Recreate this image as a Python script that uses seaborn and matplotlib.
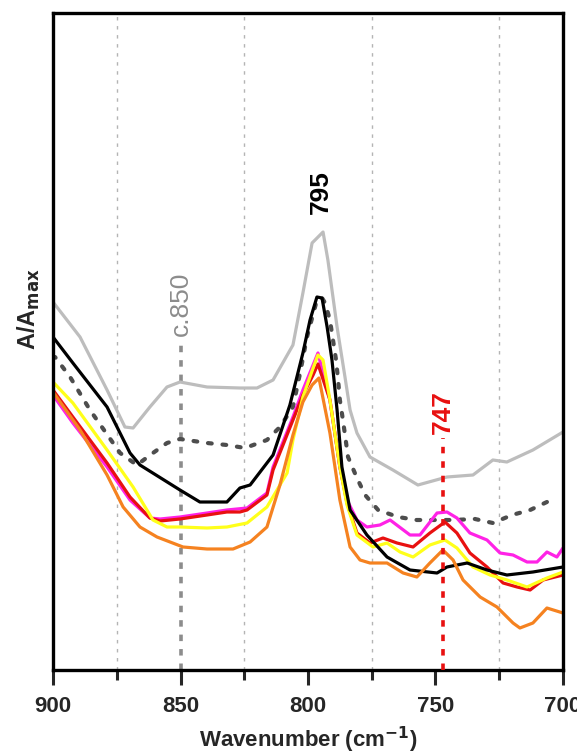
import numpy as np
import matplotlib
matplotlib.use('Agg')
import matplotlib.pyplot as plt
import seaborn as sns

# wavenumber (cm-1) / normalised absorbance
wn_gray = [900, 889.4, 878.8, 871.8, 868.6, 862.0, 855.3, 850.2, 839.6, 826.7, 820.0, 813.7, 805.9,
           802.0, 798.4, 794.1, 792.2, 788.6, 785.5, 783.5, 780.8, 775.7, 766.7, 756.9, 745.5,
           735.3, 727.5, 722.0, 711.8, 700]
a_gray = [.368, .333, .280, .243, .242, .263, .283, .288, .283, .282, .282, .290, .325,
          .377, .427, .438, .410, .343, .293, .260, .237, .213, .200, .185, .193,
          .195, .210, .208, .220, .238]

wn_dot = [899.2, 893.3, 885.5, 873.7, 867.1, 860.8, 855.3, 850.2, 839.6, 831.8, 824.7, 816.1, 811.0,
          805.9, 803.1, 800.4, 796.5, 794.5, 793.3, 791.4, 790.2, 789.0, 788.2, 787.5, 786.3,
          784.3, 780.8, 777.6, 772.5, 764.7, 757.3, 748.2, 743.1, 734.5, 727.5, 720.0, 712.9, 706.3]
a_dot = [.313, .293, .260, .217, .205, .217, .227, .231, .227, .225, .222, .230, .243,
         .263, .297, .333, .370, .372, .367, .350, .330, .310, .290, .270, .250,
         .213, .192, .175, .160, .153, .150, .150, .150, .151, .147, .155, .160, .168]

wn_black = [900, 892.2, 878.8, 869.8, 865.9, 850.2, 842.4, 831.8, 826.7, 822.7, 813.7, 807.1, 802.0,
            799.2, 796.5, 794.5, 792.5, 790.6, 788.6, 786.7, 783.5, 776.9, 769.0, 760.0, 749.4,
            745.5, 737.6, 729.8, 722.0, 711.8, 700]
a_black = [.333, .307, .263, .217, .205, .180, .168, .168, .182, .185, .215, .265, .317,
           .350, .373, .372, .343, .310, .260, .203, .160, .135, .113, .100, .097,
           .103, .107, .100, .095, .098, .103]

wn_magenta = [900, 892.2, 878.8, 869.8, 862.0, 858.0, 850.2, 839.6, 831.8, 823.9, 816.1, 813.7, 805.9,
              802.0, 798.0, 796.1, 791.4, 787.5, 784.7, 780.8, 776.9, 771.8, 767.8, 760.0, 756.1,
              749.4, 745.5, 741.6, 736.5, 729.8, 724.7, 719.6, 714.1, 710.2, 706.3, 702.4, 700]
a_magenta = [.275, .247, .203, .170, .152, .151, .153, .157, .160, .162, .177, .203, .253,
             .280, .305, .317, .270, .203, .170, .150, .143, .145, .150, .135, .135,
             .157, .158, .152, .137, .130, .117, .115, .108, .108, .118, .113, .122]

wn_red = [900, 892.2, 878.8, 869.8, 862.0, 858.0, 850.2, 839.6, 831.8, 826.7, 823.9, 816.1, 813.7,
          805.9, 802.0, 798.0, 796.1, 791.4, 787.5, 784.7, 780.8, 775.7, 770.6, 765.1, 758.8,
          752.2, 746.3, 741.6, 736.5, 729.8, 723.5, 718.0, 712.9, 707.8, 700]
a_red = [.280, .253, .207, .173, .152, .149, .151, .155, .158, .158, .160, .175, .200,
         .250, .275, .295, .306, .270, .203, .167, .137, .127, .132, .127, .123,
         .137, .148, .137, .117, .103, .087, .083, .080, .090, .095]

wn_yellow = [900, 892.2, 878.8, 868.6, 860.8, 855.3, 850.2, 839.6, 831.8, 823.9, 816.1, 808.2, 805.9,
             802.0, 798.0, 796.1, 794.1, 791.4, 787.5, 784.7, 780.8, 774.5, 769.0, 763.9, 758.8,
             752.2, 746.3, 741.6, 735.3, 728.6, 722.0, 714.1, 706.3, 700]
a_yellow = [.288, .267, .220, .183, .150, .143, .143, .142, .143, .147, .163, .197, .230,
            .273, .302, .315, .310, .270, .203, .165, .135, .123, .127, .118, .113,
            .125, .130, .122, .103, .095, .090, .083, .092, .098]

wn_orange = [900, 889.4, 878.8, 872.5, 865.9, 859.2, 849.0, 839.6, 829.4, 822.7, 816.1, 811.0, 805.9,
             802.0, 798.4, 795.7, 791.4, 787.5, 783.5, 779.6, 775.7, 769.0, 762.7, 757.3, 752.2,
             747.1, 743.1, 739.2, 732.5, 725.9, 719.6, 716.9, 711.8, 706.3, 700]
a_orange = [.278, .240, .195, .163, .143, .133, .123, .121, .121, .128, .143, .185, .235,
            .268, .285, .292, .237, .170, .123, .110, .107, .107, .097, .093, .107,
            .120, .110, .090, .073, .063, .047, .042, .047, .062, .057]

# band annotations
band_wn = [850, 795, 747]
band_text = ['c.850', '795', '747']
band_top = [0.330, 0.452, 0.232]
band_color = ['#8c8c8c', 'black', '#e81010']

sns.set_style('white')
plt.rcParams['font.family'] = ['Liberation Sans', 'DejaVu Sans']

fig = plt.figure(figsize=(5.77, 7.53), dpi=100)
ax = fig.add_axes([53/577, 83/753, 510/577, 657/753])

for x in [875, 825, 775, 725]:
    ax.axvline(x, color='#b4b4b4', lw=1.0, ls=(0, (2.5, 4)), zorder=0)

lw = 2.3
sns.lineplot(x=wn_gray, y=a_gray, ax=ax, color='#bdbdbd', lw=lw)
sns.lineplot(x=wn_dot, y=a_dot, ax=ax, color='#4d4d4d', lw=3.0,
             linestyle=(0, (0.9, 2.6)), dash_capstyle='round')
sns.lineplot(x=wn_magenta, y=a_magenta, ax=ax, color='#ff22e6', lw=lw)
sns.lineplot(x=wn_red, y=a_red, ax=ax, color='#e81010', lw=lw)
sns.lineplot(x=wn_yellow, y=a_yellow, ax=ax, color='#ffff1a', lw=lw)
sns.lineplot(x=wn_black, y=a_black, ax=ax, color='black', lw=lw)
sns.lineplot(x=wn_orange, y=a_orange, ax=ax, color='#f58220', lw=lw)

# dashed band markers + labels
ax.plot([band_wn[0]] * 2, [0, band_top[0]], color='#8c8c8c', lw=2.6, ls=(0, (1.8, 2.2)), zorder=1)
ax.plot([band_wn[2]] * 2, [0, band_top[2]], color='#e81010', lw=2.6, ls=(0, (1.8, 2.2)), zorder=5)
for x, t, y, c in zip(band_wn, band_text, band_top, band_color):
    ax.text(x, y + 0.004, t, rotation=90, ha='center', va='bottom', color=c,
            fontsize=19, fontweight='normal' if t.startswith('c') else 'bold')

ax.set_xlim(900, 700)
ax.set_ylim(0, 0.657)
ax.set_yticks([])
ax.set_xticks([900, 850, 800, 750, 700])
ax.set_xticks([875, 825, 775, 725], minor=True)
ax.tick_params(axis='x', which='major', length=11, width=2.2, direction='out',
               labelsize=16, pad=8, bottom=True)
ax.tick_params(axis='x', which='minor', length=7, width=2.2, direction='out', bottom=True)
for lbl in ax.get_xticklabels():
    lbl.set_fontweight('bold')
for s in ax.spines.values():
    s.set_linewidth(2.4)
    s.set_color('black')

ax.set_xlabel('Wavenumber (cm$^{\\mathbf{-1}}$)', fontsize=16, fontweight='bold', labelpad=5)
ax.set_ylabel('A/A$_{\\mathbf{max}}$', fontsize=17, fontweight='bold')
ax.yaxis.set_label_coords(-0.022, 0.55)

fig.savefig('out.png', dpi=100, facecolor='white')
